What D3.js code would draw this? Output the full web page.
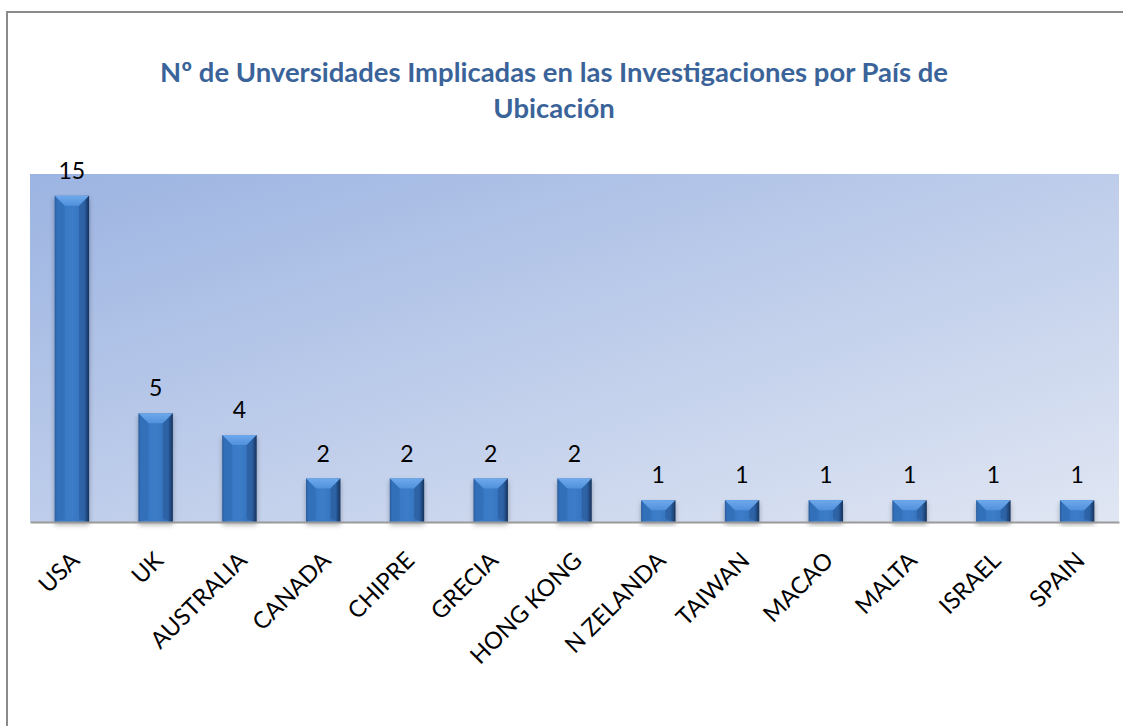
<!DOCTYPE html>
<html>
<head>
<meta charset="utf-8">
<script src="https://cdn.jsdelivr.net/npm/d3@7"></script>
<style>
  body { margin: 0; background: #fff; }
  svg { display: block; }
</style>
</head>
<body>
<script>
"use strict";

// data
const countries = ["USA", "UK", "AUSTRALIA", "CANADA", "CHIPRE", "GRECIA", "HONG KONG",
  "N ZELANDA", "TAIWAN", "MACAO", "MALTA", "ISRAEL", "SPAIN"]
const universities = [15, 5, 4, 2, 2, 2, 2, 1, 1, 1, 1, 1, 1]
const titleLines = ["Nº de Unversidades Implicadas en las Investigaciones por País de", "Ubicación"]

const m = { width: 1123, height: 726 }
const plot = { left: 30, right: 1119, top: 174, bottom: 522 }
const font = "Lato, 'Open Sans', sans-serif"

const svg = d3.select("body").append("svg")
  .attr("width", m.width)
  .attr("height", m.height)

const defs = svg.append("defs")

// plot background gradient
const bg = defs.append("linearGradient").attr("id", "bg")
  .attr("x1", "0%").attr("y1", "0%").attr("x2", "100%").attr("y2", "100%")
bg.append("stop").attr("offset", "0%").attr("stop-color", "#9cb4e2")
bg.append("stop").attr("offset", "100%").attr("stop-color", "#e0e6f3")

// bar body gradient, thin dark edges
const bar = defs.append("linearGradient").attr("id", "bar")
  .attr("x1", "0%").attr("y1", "0%").attr("x2", "100%").attr("y2", "0%")
bar.append("stop").attr("offset", "0%").attr("stop-color", "#2b5a99")
bar.append("stop").attr("offset", "7%").attr("stop-color", "#3676c2")
bar.append("stop").attr("offset", "50%").attr("stop-color", "#3c7cc8")
bar.append("stop").attr("offset", "86%").attr("stop-color", "#3471bb")
bar.append("stop").attr("offset", "93%").attr("stop-color", "#264f88")
bar.append("stop").attr("offset", "100%").attr("stop-color", "#152e52")

const topBev = defs.append("linearGradient").attr("id", "topbev")
  .attr("x1", "0%").attr("y1", "0%").attr("x2", "0%").attr("y2", "100%")
topBev.append("stop").attr("offset", "0%").attr("stop-color", "#6ea9ec")
topBev.append("stop").attr("offset", "100%").attr("stop-color", "#5090dc")

const shadow = defs.append("filter").attr("id", "shadow")
  .attr("x", "-30%").attr("y", "-10%").attr("width", "160%").attr("height", "130%")
shadow.append("feDropShadow").attr("dx", 0).attr("dy", 3).attr("stdDeviation", 2.5)
  .attr("flood-color", "#000").attr("flood-opacity", 0.3)

// chart border
svg.append("rect")
  .attr("x", 7).attr("y", 12)
  .attr("width", m.width + 20).attr("height", m.height + 20)
  .attr("fill", "none")
  .attr("stroke", "#8a8a8a")
  .attr("stroke-width", 2)

// title
const title = svg.append("text")
  .attr("text-anchor", "middle")
  .attr("font-family", font)
  .attr("font-weight", "bold")
  .attr("fill", "#3a6399")
  .attr("font-size", 24)
title.selectAll("tspan")
  .data(titleLines)
  .enter()
  .append("tspan")
  .attr("x", 554)
  .attr("y", (d, i) => 82 + i * 36)
  .text(d => d)
// fit the first line to the width in the picture
const firstLen = title.select("tspan").node().getComputedTextLength()
title.attr("font-size", 24 * 788 / firstLen)

const x = d3.scaleBand()
  .domain(countries)
  .range([plot.left, plot.right])
  .paddingInner(0.59)
  .paddingOuter(0.295)

const y = d3.scaleLinear()
  .domain([0, 16])
  .range([plot.bottom, plot.top])

svg.append("rect")
  .attr("x", plot.left).attr("y", plot.top)
  .attr("width", plot.right - plot.left)
  .attr("height", plot.bottom - plot.top)
  .attr("fill", "url(#bg)")

const data = countries.map((c, i) => ({ country: c, value: universities[i] }))

const bars = svg.append("g").selectAll("g")
  .data(data)
  .enter()
  .append("g")
  .attr("filter", "url(#shadow)")

bars.append("rect")
  .attr("x", d => x(d.country))
  .attr("y", d => y(d.value))
  .attr("width", x.bandwidth())
  .attr("height", d => y(0) - y(d.value))
  .attr("fill", "url(#bar)")

// bevel on top of each bar
const bev = 10
bars.append("path")
  .attr("fill", "url(#topbev)")
  .attr("d", d => {
    const x0 = x(d.country), x1 = x0 + x.bandwidth(), t = y(d.value)
    const b = Math.min(bev, (y(0) - t) / 2)
    return `M${x0},${t}L${x1},${t}L${x1 - b},${t + b}L${x0 + b},${t + b}Z`
  })
bars.append("path")
  .attr("fill", "#2c63a8").attr("opacity", 0.35)
  .attr("d", d => {
    const x0 = x(d.country), t = y(d.value), bt = y(0)
    const b = Math.min(bev, (bt - t) / 2)
    return `M${x0},${t}L${x0 + b},${t + b}L${x0 + b},${bt - 3}L${x0},${bt}Z`
  })
bars.append("path")
  .attr("fill", "#1b3f70").attr("opacity", 0.3)
  .attr("d", d => {
    const x1 = x(d.country) + x.bandwidth(), t = y(d.value), bt = y(0)
    const b = Math.min(bev, (bt - t) / 2)
    return `M${x1},${t}L${x1 - b},${t + b}L${x1 - b},${bt - 3}L${x1},${bt}Z`
  })

// axis
const xAxis = d3.axisBottom(x).tickSize(0).tickPadding(0)
const gx = svg.append("g")
  .attr("transform", `translate(0,${plot.bottom})`)
  .call(xAxis)
gx.select(".domain").attr("stroke", "#9a9a9a").attr("stroke-width", 2)
gx.selectAll("text")
  .attr("font-family", font)
  .attr("font-size", 23.5)
  .attr("fill", "#000")
  .attr("text-anchor", "end")
  .attr("dy", 0)
  .attr("y", 0)
  .attr("transform", "translate(9,40) rotate(-45)")

// value labels
svg.append("g").selectAll("text")
  .data(data)
  .enter()
  .append("text")
  .attr("x", d => x(d.country) + x.bandwidth() / 2)
  .attr("y", d => y(d.value) - 17)
  .attr("text-anchor", "middle")
  .attr("font-family", font)
  .attr("font-size", 23)
  .attr("fill", "#000")
  .text(d => d.value)
</script>
</body>
</html>
